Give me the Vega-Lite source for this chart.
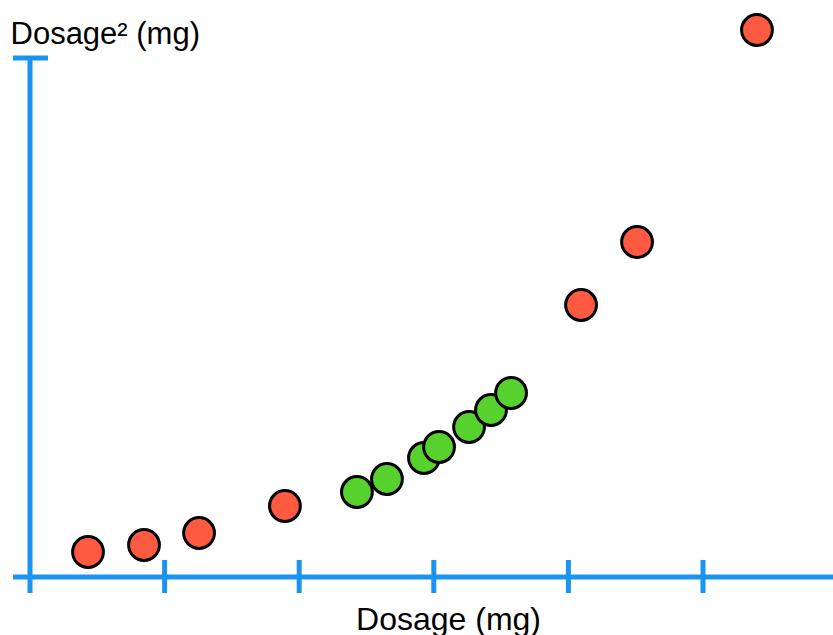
{
  "$schema": "https://vega.github.io/schema/vega-lite/v6.json",
  "width": 833,
  "height": 635,
  "autosize": {"type": "none"},
  "padding": 0,
  "background": "white",
  "config": {"view": {"stroke": null}},
  "datasets": {
    "axes": [
      {"x": -0.126, "x2": 5.966, "y": 0, "y2": 0},
      {"x": 0, "x2": 0, "y": -0.8, "y2": 25.95},
      {"x": -0.126, "x2": 0.134, "y": 25.95, "y2": 25.95},
      {"x": 1, "x2": 1, "y": -0.8, "y2": 0.85},
      {"x": 2, "x2": 2, "y": -0.8, "y2": 0.85},
      {"x": 3, "x2": 3, "y": -0.8, "y2": 0.85},
      {"x": 4, "x2": 4, "y": -0.8, "y2": 0.85},
      {"x": 5, "x2": 5, "y": -0.8, "y2": 0.85}
    ],
    "points": [
      {"dosage": 0.431, "dosage2": 1.25, "group": "outside"},
      {"dosage": 0.847, "dosage2": 1.6, "group": "outside"},
      {"dosage": 1.256, "dosage2": 2.2, "group": "outside"},
      {"dosage": 1.894, "dosage2": 3.55, "group": "outside"},
      {"dosage": 2.429, "dosage2": 4.25, "group": "inside"},
      {"dosage": 2.652, "dosage2": 4.9, "group": "inside"},
      {"dosage": 2.927, "dosage2": 5.95, "group": "inside"},
      {"dosage": 3.039, "dosage2": 6.5, "group": "inside"},
      {"dosage": 3.262, "dosage2": 7.5, "group": "inside"},
      {"dosage": 3.425, "dosage2": 8.35, "group": "inside"},
      {"dosage": 3.574, "dosage2": 9.2, "group": "inside"},
      {"dosage": 4.094, "dosage2": 13.6, "group": "outside"},
      {"dosage": 4.51, "dosage2": 16.75, "group": "outside"},
      {"dosage": 5.401, "dosage2": 27.35, "group": "outside"}
    ]
  },
  "layer": [
    {
      "data": {"name": "axes"},
      "mark": {"type": "rule", "stroke": "#1A94F0", "strokeWidth": 5, "strokeCap": "butt"},
      "encoding": {
        "x": {
          "field": "x", "type": "quantitative",
          "scale": {"domain": [-0.2229, 5.9658], "nice": false, "zero": false},
          "axis": {"domain": false, "ticks": false, "labels": false, "grid": false, "title": "Dosage (mg)", "titleFont": "Liberation Sans", "titleFontSize": 32, "titleFontWeight": "normal", "titleColor": "#000000", "titleX": 448, "titleY": -6, "titleAlign": "center", "titleBaseline": "alphabetic"}
        },
        "x2": {"field": "x2"},
        "y": {
          "field": "y", "type": "quantitative",
          "scale": {"domain": [-2.9, 28.85], "nice": false, "zero": false},
          "axis": {"domain": false, "ticks": false, "labels": false, "grid": false, "title": "Dosage² (mg)", "titleFont": "Liberation Sans", "titleFontSize": 31, "titleFontWeight": "normal", "titleColor": "#000000", "titleAngle": 0, "titleX": 10, "titleY": 43, "titleAlign": "left", "titleBaseline": "alphabetic"}
        },
        "y2": {"field": "y2"}
      }
    },
    {
      "data": {"name": "points"},
      "mark": {"type": "circle", "size": 950, "opacity": 1, "stroke": "#000000", "strokeWidth": 3},
      "encoding": {
        "x": {"field": "dosage", "type": "quantitative"},
        "y": {"field": "dosage2", "type": "quantitative"},
        "fill": {"field": "group", "type": "nominal", "scale": {"domain": ["outside", "inside"], "range": ["#FE5A42", "#57D12E"]}, "legend": null}
      }
    }
  ]
}
